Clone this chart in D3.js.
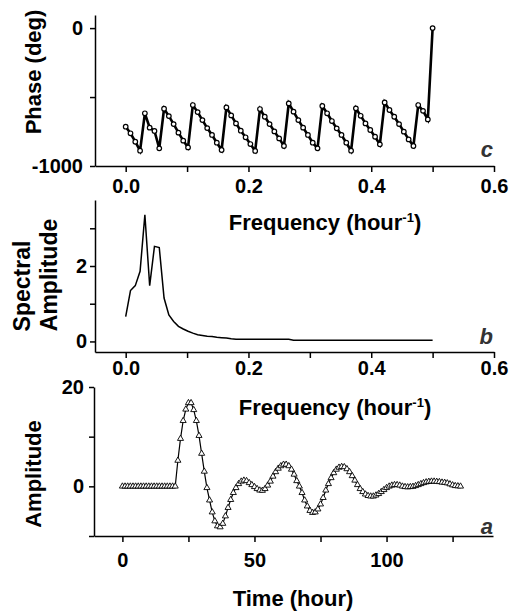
<!DOCTYPE html>
<html>
<head>
<script src="https://cdnjs.cloudflare.com/ajax/libs/d3/7.8.5/d3.min.js"></script>
<style>
  body { margin: 0; background: #fff; }
  text { font-family: Arial, "Liberation Sans", sans-serif; font-weight: bold; }
  .axis path, .axis line { stroke: #000; stroke-width: 1.5; }
  .axis text { font-size: 20px; fill: #000; }
</style>
</head>
<body>
<script>
// FFT bins (N = 128) and time samples
var freqs = d3.range(65).map(k => k / 128);
var times = d3.range(129);

// panel c : phase (deg)
var phase = [-715,-763,-824,-889,-618,-722,-746,-872,-585,-638,
             -696,-758,-816,-865,-558,-609,-667,-725,-775,-831,
             -884,-575,-633,-691,-744,-792,-841,-891,-587,-643,
             -696,-749,-800,-855,-546,-606,-667,-722,-775,-831,
             -872,-565,-618,-674,-727,-775,-831,-889,-582,-636,
             -691,-739,-788,-843,-539,-594,-643,-696,-751,-807,
             -855,-558,-600,-662,0];

// panel b : spectral amplitude
var spectrum = [0.66,1.35,1.48,1.86,3.36,1.48,2.52,2.49,1.15,0.70,
                0.53,0.40,0.33,0.27,0.22,0.18,0.16,0.14,0.13,0.11,
                0.10,0.09,0.07,0.06,0.06,0.06,0.06,0.06,0.06,0.06,
                0.06,0.06,0.06,0.06,0.06,0.03,0.03,0.03,0.03,0.03,
                0.03,0.03,0.03,0.03,0.03,0.03,0.03,0.03,0.03,0.03,
                0.03,0.03,0.03,0.03,0.03,0.03,0.03,0.03,0.03,0.03,
                0.03,0.03,0.03,0.03,0.03];

// panel a : amplitude vs time
var amplitude = [0,0,0,0,0,0,0,0,0,0,
                 0,0,0,0,0,0,0,0,0,0,
                 0,5.2,9.6,13.2,15.5,16.8,16.8,15.4,13.2,10.2,
                 6.6,3.0,-0.3,-2.8,-5.2,-7.0,-8.0,-8.2,-7.5,-6.0,
                 -4.3,-2.7,-1.3,-0.3,0.5,1.0,1.2,1.1,0.7,0.3,
                 -0.1,-0.5,-0.8,-0.85,-0.5,0.2,1.0,2.0,2.9,3.6,
                 4.1,4.4,4.4,4.1,3.4,2.4,1.1,0.0,-1.3,-2.8,
                 -4.0,-4.9,-5.3,-5.2,-4.6,-3.6,-2.3,-0.8,0.5,1.7,
                 2.7,3.4,3.8,3.95,3.9,3.5,2.9,2.1,1.2,0.3,
                 -0.5,-1.1,-1.6,-1.9,-2.0,-2.0,-1.8,-1.5,-1.1,-0.7,
                 -0.3,0.0,0.2,0.3,0.3,0.2,0.0,-0.1,-0.15,-0.1,
                 -0.05,0.1,0.3,0.5,0.7,0.85,0.95,1.0,1.0,0.95,
                 0.9,0.8,0.75,0.65,0.45,0.25,0.1,0.05,0.0];

var freqTicks = [0, 0.1, 0.2, 0.3, 0.4, 0.5, 0.6];
var freqLabels = [0, 0.2, 0.4, 0.6];

var svg = d3.select("body").append("svg")
    .attr("width", 510)
    .attr("height", 612);

function drawAxes(x, y, xTicks, xLabels, xFmt, xPad, yTicks, yLabels, yPad) {
    var has = (arr, v) => arr.some(a => Math.abs(a - v) < 1e-9);
    svg.append("g")
        .attr("class", "axis")
        .attr("transform", "translate(0," + y.range()[0] + ")")
        .call(d3.axisBottom(x).tickValues(xTicks).tickSize(6).tickSizeOuter(0).tickPadding(xPad)
            .tickFormat(d => has(xLabels, d) ? xFmt(d) : ""));
    svg.append("g")
        .attr("class", "axis")
        .attr("transform", "translate(" + x.range()[0] + ",0)")
        .call(d3.axisLeft(y).tickValues(yTicks).tickSize(5).tickSizeOuter(0).tickPadding(yPad)
            .tickFormat(d => has(yLabels, d) ? d : ""));
}

function freqTitle(cx, cy) {
    var t = svg.append("text")
        .attr("x", cx).attr("y", cy).attr("dy", "0.35em")
        .attr("text-anchor", "middle")
        .style("font-size", "22px");
    t.append("tspan").text("Frequency (hour");
    t.append("tspan").attr("dy", -8).style("font-size", "13px").text("-1");
    t.append("tspan").attr("dy", 8).text(")");
}

function yTitle(cx, cy, label, size) {
    svg.append("text")
        .attr("transform", "translate(" + cx + "," + cy + ") rotate(-90)")
        .attr("dy", "0.35em")
        .attr("text-anchor", "middle")
        .style("font-size", (size || 22) + "px")
        .text(label);
}

function panelLetter(px, py, s) {
    svg.append("text")
        .attr("x", px).attr("y", py)
        .attr("text-anchor", "end")
        .style("font-size", "22px")
        .style("font-style", "italic")
        .attr("fill", "#333")
        .text(s);
}

// ---- panel c : phase
var xc = d3.scaleLinear().domain([-0.05, 0.6]).range([95, 494]);
var yc = d3.scaleLinear().domain([-1000, 95]).range([166, 15]);
drawAxes(xc, yc, freqTicks, freqLabels, d3.format(".1f"), 7, [-1000, -500, 0], [-1000, 0], 7);

svg.append("path")
    .datum(phase)
    .attr("fill", "none")
    .attr("stroke", "#000")
    .attr("stroke-width", 2.6)
    .attr("d", d3.line().x((d, i) => xc(freqs[i])).y(d => yc(d)));

svg.append("g").selectAll("circle")
    .data(phase)
    .join("circle")
    .attr("cx", (d, i) => xc(freqs[i]))
    .attr("cy", d => yc(d))
    .attr("r", 2.3)
    .attr("fill", "#fff")
    .attr("stroke", "#000")
    .attr("stroke-width", 1.2);

yTitle(33, 72, "Phase (deg)");
panelLetter(493, 157, "c");
freqTitle(325, 222);

// ---- panel b : spectrum
var xb = d3.scaleLinear().domain([-0.05, 0.6]).range([95, 494]);
var yb = d3.scaleLinear().domain([-0.28, 3.75]).range([352, 200]);
drawAxes(xb, yb, freqTicks, freqLabels, d3.format(".1f"), 3, [0, 1, 2, 3], [0, 2], 3);

svg.append("path")
    .datum(spectrum)
    .attr("fill", "none")
    .attr("stroke", "#000")
    .attr("stroke-width", 1.5)
    .attr("d", d3.line().x((d, i) => xb(freqs[i])).y(d => yb(d)));

yTitle(22, 286, "Spectral", 23);
yTitle(49, 275, "Amplitude", 23);
panelLetter(493, 344, "b");
freqTitle(335, 407);

// ---- panel a : time series
var xa = d3.scaleLinear().domain([-10.75, 140.3]).range([94, 493]);
var ya = d3.scaleLinear().domain([-10, 20]).range([536, 387]);
drawAxes(xa, ya, [0, 25, 50, 75, 100, 125], [0, 50, 100], d3.format("d"), 11, [-10, 0, 10, 20], [0, 20], 5);

svg.append("path")
    .datum(amplitude)
    .attr("fill", "none")
    .attr("stroke", "#000")
    .attr("stroke-width", 1.2)
    .attr("d", d3.line().x((d, i) => xa(times[i])).y(d => ya(d)));

svg.append("g").selectAll("path")
    .data(amplitude)
    .join("path")
    .attr("transform", (d, i) => "translate(" + xa(times[i]) + "," + ya(d) + ")")
    .attr("d", d3.symbol(d3.symbolTriangle, 16))
    .attr("fill", "#fff")
    .attr("stroke", "#000")
    .attr("stroke-width", 0.9);

yTitle(33, 474, "Amplitude");
panelLetter(493, 534, "a");

svg.append("text")
    .attr("x", 293).attr("y", 598).attr("dy", "0.35em")
    .attr("text-anchor", "middle")
    .style("font-size", "22px")
    .text("Time (hour)");
</script>
</body>
</html>
